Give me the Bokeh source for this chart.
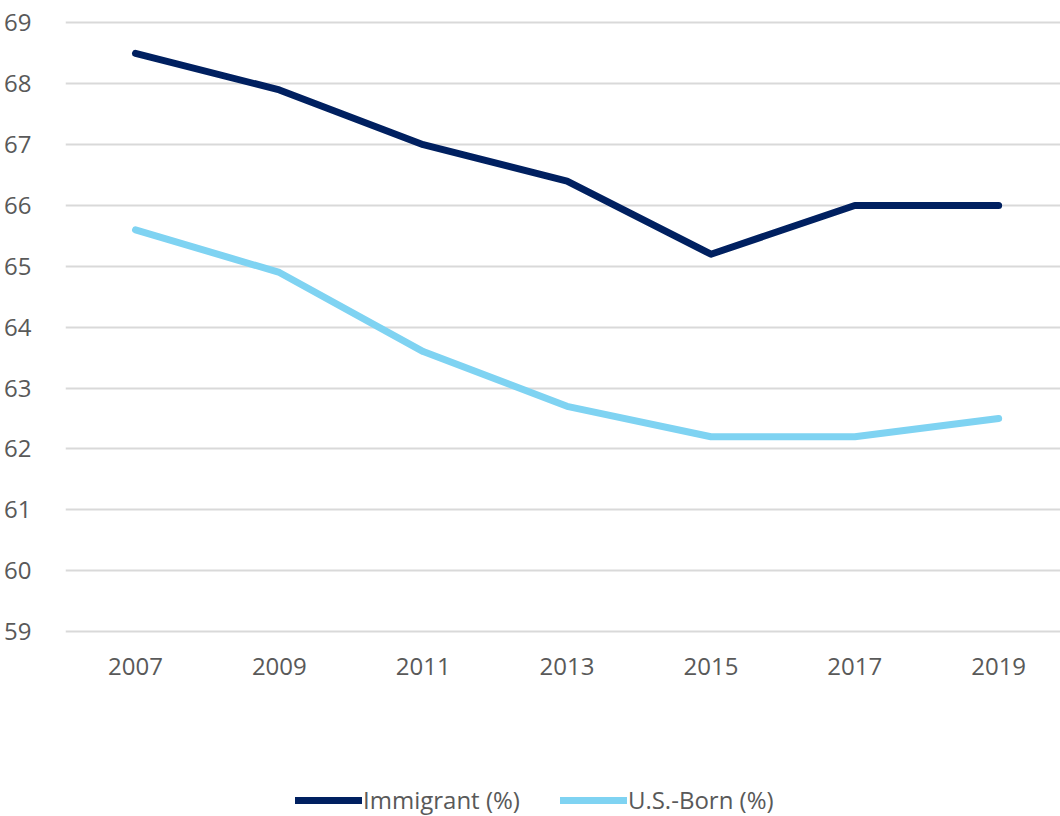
from bokeh.plotting import figure
from bokeh.models import FixedTicker, Legend, LegendItem, Range1d
from bokeh.layouts import column
from bokeh.embed import file_html
from bokeh.resources import INLINE

years = [2007, 2009, 2011, 2013, 2015, 2017, 2019]
immigrant = [68.5, 67.9, 67.0, 66.4, 65.2, 66.0, 66.0]
us_born = [65.6, 64.9, 63.6, 62.7, 62.2, 62.2, 62.5]
y_ticks = list(range(59, 70))
series_names = ["Immigrant (%)", "U.S.-Born (%)"]
colors = ["#002060", "#7FD3F2"]

FONT = "Open Sans"
GREY = "#595959"

p = figure(width=1060, height=775, output_backend="svg", toolbar_location=None,
           x_range=Range1d(2006.027, 2019.86), y_range=Range1d(58.852, 69.205),
           min_border_left=65, min_border_right=0, min_border_top=10, min_border_bottom=135)
p.outline_line_color = None
p.background_fill_color = "white"
p.border_fill_color = "white"

p.line(years, immigrant, line_color=colors[0], line_width=7, line_cap="round", line_join="round")
p.line(years, us_born, line_color=colors[1], line_width=7, line_cap="round", line_join="round")

p.xaxis.ticker = FixedTicker(ticks=years)
p.yaxis.ticker = FixedTicker(ticks=y_ticks)
for ax in (p.xaxis, p.yaxis):
    ax.axis_line_color = None
    ax.major_tick_line_color = None
    ax.minor_tick_line_color = None
    ax.major_label_text_font = FONT
    ax.major_label_text_font_size = "24px"
    ax.major_label_text_color = GREY
p.yaxis.major_label_standoff = 28
p.xaxis.major_label_standoff = 11

p.xgrid.grid_line_color = None
p.ygrid.grid_line_color = "#d9d9d9"
p.ygrid.grid_line_width = 2

# separate strip holding the legend below the chart
lf = figure(width=1060, height=41, output_backend="svg", toolbar_location=None,
            x_axis_type=None, y_axis_type=None,
            x_range=Range1d(0, 1), y_range=Range1d(0, 1),
            min_border_left=0, min_border_right=0, min_border_top=0, min_border_bottom=0)
lf.outline_line_color = None
lf.xgrid.visible = False
lf.ygrid.visible = False
lr1 = lf.line([5, 6], [5, 6], line_color=colors[0], line_width=7, line_cap="round")
lr2 = lf.line([5, 6], [5, 6], line_color=colors[1], line_width=7, line_cap="round")

legend = Legend(items=[LegendItem(label=series_names[0], renderers=[lr1]),
                       LegendItem(label=series_names[1], renderers=[lr2])],
                orientation="horizontal", location=(230, 0),
                glyph_width=67, glyph_height=24, label_standoff=1, spacing=40,
                padding=0, margin=0, border_line_color=None, background_fill_alpha=0,
                label_text_font=FONT, label_text_font_size="24px", label_text_color=GREY)
lf.add_layout(legend, "center")

layout = column(p, lf, spacing=0)
open("out.html", "w").write(file_html(layout, INLINE))
